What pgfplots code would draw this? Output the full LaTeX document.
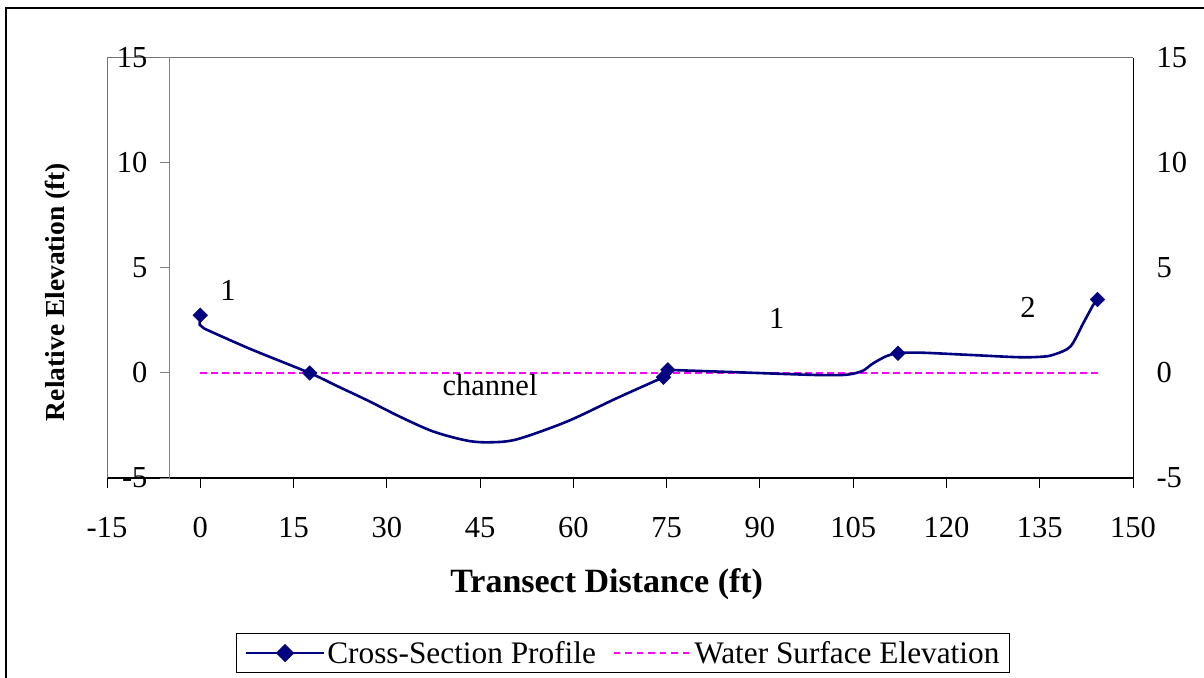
\documentclass[border=0pt]{standalone}
\usepackage{fontspec}
\setmainfont{Liberation Serif}
\usepackage{pgfplots}
\pgfplotsset{compat=1.18}
\usepackage{pgfplotstable}
\definecolor{navy}{RGB}{0,0,128}
\definecolor{pinkline}{rgb}{1,0,1}
\newcommand\tf{\fontsize{30.5bp}{36bp}\selectfont}
\newcommand\lf{\fontsize{31.3bp}{37bp}\selectfont}

\pgfplotstableread{
x y
0 2.75
-0.1 2.3
0.6 2.12
}\hook
\pgfplotstableread{
x y
0.6 2.12
8 1.15
17.6 0
22 -0.62
27 -1.32
32.1 -2.08
37.5 -2.79
42.9 -3.22
46.5 -3.3
50.9 -3.16
58.9 -2.32
66.9 -1.21
74.5 -0.2
}\curveA
\pgfplotstableread{
x y
74.5 -0.2
75.2 0.15
}\joint
\pgfplotstableread{
x y
75.2 0.15
80 0.1
86 0.04
94.3 -0.05
100 -0.1
104 -0.08
106.5 0.1
108.2 0.46
110.4 0.81
112.2 0.94
115.7 0.97
123.8 0.86
131.8 0.75
135.5 0.78
137.1 0.86
139.9 1.25
142 2.37
143.6 3.24
144.3 3.5
}\curveC
\pgfplotstableread{
x y
0 2.75
17.6 0
74.5 -0.2
75.2 0.15
112.2 0.94
144.3 3.5
}\marks
\pgfplotstableread{
x y
0 0
144.3 0
}\water

\begin{document}
\begin{tikzpicture}
\useasboundingbox (-107bp,-200bp) rectangle (1097bp,478bp);
\draw[black, line width=1.3bp] (-101bp,470bp) rectangle (1200bp,-300bp);
\begin{axis}[
  scale only axis, width=1026bp, height=420bp,
  at={(0bp,0bp)}, anchor=south west,
  xmin=-15, xmax=150, ymin=-5, ymax=15,
  clip=false,
  axis x line*=bottom, axis y line*=right,
  x axis line style={black, line width=1.2bp},
  y axis line style={black, line width=0.9bp},
  xtick={-15,0,...,150}, ytick={-5,0,...,15},
  tick align=outside, major tick length=10bp,
  xtick style={black, line width=1bp}, ytick style={draw=none},
  tick label style={font=\tf},
  /pgf/number format/assume math mode=true,
  xticklabel style={yshift=-26bp},
  yticklabel style={xshift=10bp},
  xlabel={Transect Distance (ft)},
  xlabel style={font=\fontsize{34bp}{40bp}\selectfont\bfseries, at={(axis description cs:0.487,-0.252)}, anchor=center},
  legend columns=2,
  legend cell align=left,
  legend image code/.code={\draw[mark repeat=2,mark phase=2,#1] plot coordinates {(0bp,0bp) (39bp,0bp) (78bp,0bp)};},
  legend style={at={(0.503,-0.4167)}, anchor=center, draw=black, line width=0.8bp, font=\lf,
    inner xsep=8bp, inner ysep=6bp,
    /tikz/every even column/.append style={column sep=15bp}},
]
\addlegendimage{draw=navy, line width=2.6bp, mark=square*, mark size=5.2bp, mark options={rotate=45, solid, draw=navy, fill=navy}}
\addlegendentry{Cross-Section Profile}
\addlegendimage{draw=pinkline, line width=1.3bp, dash pattern=on 6.5bp off 5bp}
\addlegendentry{Water Surface Elevation}
\addplot[draw=pinkline, line width=1.3bp, dash pattern=on 6.5bp off 4.5bp, forget plot] table {\water};
\addplot[draw=navy, line width=2.6bp, sharp plot, no markers, forget plot] table {\hook};
\addplot[draw=navy, line width=2.6bp, smooth, no markers, forget plot] table {\curveA};
\addplot[draw=navy, line width=2.6bp, sharp plot, no markers, forget plot] table {\joint};
\addplot[draw=navy, line width=2.6bp, smooth, no markers, forget plot] table {\curveC};
\addplot[only marks, mark=square*, mark size=5.2bp, mark options={rotate=45, draw=navy, fill=navy}, forget plot] table {\marks};
\draw[black!55, line width=1bp] (rel axis cs:0,0) -- (rel axis cs:0,1) -- (rel axis cs:1,1);
\draw[black, line width=1bp] (axis cs:150,-5) ++(-8bp,0) -- ++(16bp,0);
\draw[black, line width=1bp] (axis cs:150,0) ++(-8bp,0) -- ++(16bp,0);
\draw[black, line width=1bp] (axis cs:150,5) ++(-8bp,0) -- ++(16bp,0);
\draw[black, line width=1bp] (axis cs:150,10) ++(-8bp,0) -- ++(16bp,0);
\draw[black, line width=1bp] (axis cs:150,15) ++(-8bp,0) -- ++(16bp,0);
\node[font=\tf] at (axis cs:4.45,3.95) {1};
\node[font=\tf] at (axis cs:92.7,2.62) {1};
\node[font=\tf] at (axis cs:133.1,3.14) {2};
\node[font=\tf] at (axis cs:46.6,-0.57) {channel};
\end{axis}
\begin{axis}[
  scale only axis, width=963bp, height=420bp,
  at={(63bp,0bp)}, anchor=south west,
  xmin=0, xmax=1, ymin=-5, ymax=15,
  hide x axis, axis y line*=left,
  y axis line style={gray, line width=1bp},
  ytick={-5,0,...,15},
  ytick style={gray, line width=1bp},
  tick align=outside, major tick length=10bp,
  tick label style={font=\tf},
  yticklabel style={xshift=-9bp},
  /pgf/number format/assume math mode=true,
  ylabel={Relative Elevation (ft)},
  ylabel style={font=\fontsize{27.5bp}{33bp}\selectfont\bfseries, at={(axis description cs:-0.1163,0.443)}, anchor=center},
]
\end{axis}
\end{tikzpicture}
\end{document}
